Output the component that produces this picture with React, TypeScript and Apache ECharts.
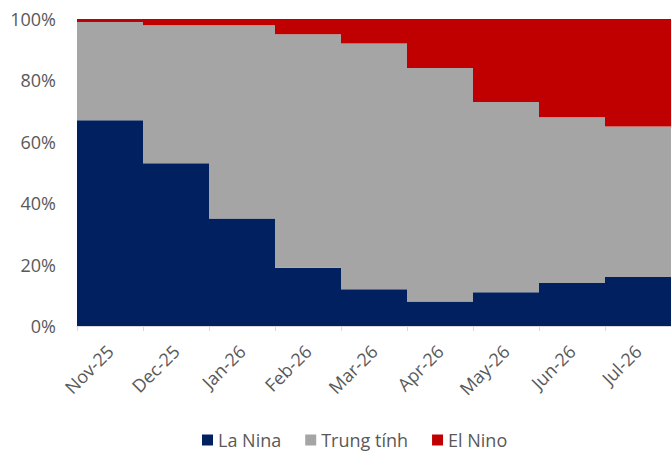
import React, { useEffect, useRef } from "react";
import * as echarts from "echarts";

const categories = ["Nov-25", "Dec-25", "Jan-26", "Feb-26", "Mar-26", "Apr-26", "May-26", "Jun-26", "Jul-26"];
const laNina = [67, 53, 35, 19, 12, 8, 11, 14, 16];
const neutral = [32, 45, 63, 76, 80, 76, 62, 54, 49];
const elNino = [1, 2, 2, 5, 8, 16, 27, 32, 35];
const yTicks = [0, 20, 40, 60, 80, 100];

export default function App() {
  const ref = useRef<HTMLDivElement>(null);
  useEffect(() => {
    if (!ref.current) return;
    const chart = echarts.init(ref.current, undefined, { renderer: "svg" });
    const font = "'Open Sans', 'Liberation Sans', sans-serif";
    const mk = (name: string, data: number[], color: string) => ({
      name,
      type: "bar",
      stack: "total",
      data,
      barCategoryGap: "0%",
      itemStyle: { color },
    });
    chart.setOption({
      animation: false,
      grid: { left: 77, right: -8, top: 19, bottom: 126, containLabel: false },
      legend: {
        top: 426,
        left: 197,
        itemWidth: 11,
        itemHeight: 11,
        itemGap: 24,
        icon: "rect",
        textStyle: { fontSize: 18, color: "#595959", fontFamily: font },
        data: ["La Nina", "Trung tính", "El Nino"],
      },
      xAxis: {
        type: "category",
        data: categories,
        boundaryGap: true,
        axisLine: { show: true, lineStyle: { color: "#D9D9D9", width: 1 } },
        axisTick: { show: true, length: 5, lineStyle: { color: "#D9D9D9" } },
        axisLabel: { rotate: 45, fontSize: 18, color: "#595959", fontFamily: font, margin: 22, interval: 0 },
      },
      yAxis: {
        type: "value",
        min: yTicks[0],
        max: yTicks[yTicks.length - 1],
        interval: 20,
        axisLine: { show: false },
        axisTick: { show: false },
        splitLine: { show: false },
        axisLabel: { formatter: "{value}%", fontSize: 18, color: "#595959", fontFamily: font, margin: 21 },
      },
      series: [
        mk("La Nina", laNina, "#002060"),
        mk("Trung tính", neutral, "#A5A5A5"),
        mk("El Nino", elNino, "#C00000"),
      ],
    });
    return () => chart.dispose();
  }, []);
  return (
    <div
      ref={ref}
      style={{ position: "fixed", left: 0, top: 0, width: 671, height: 452, background: "#fff" }}
    />
  );
}
